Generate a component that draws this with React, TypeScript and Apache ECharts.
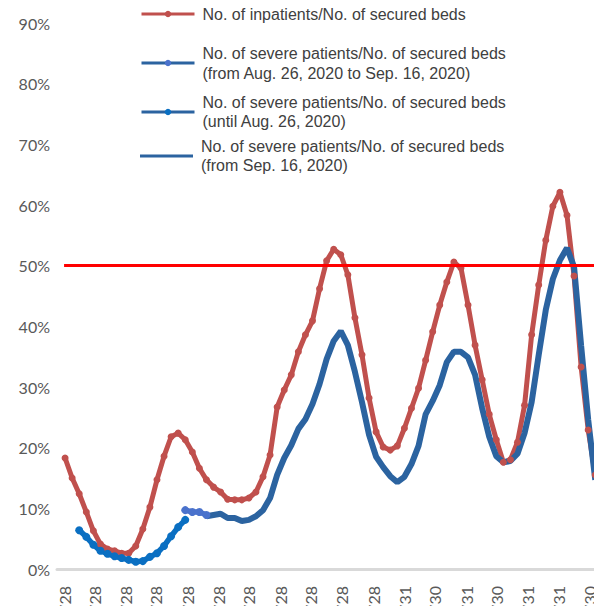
import React, { useEffect, useRef } from "react";
import * as echarts from "echarts";

// Weekly sample dates (Wednesdays)
const sampleDates = [
  "2020-04-29", "2020-05-06", "2020-05-13", "2020-05-20", "2020-05-27", "2020-06-03", "2020-06-10", "2020-06-17",
  "2020-06-24", "2020-07-01", "2020-07-08", "2020-07-15", "2020-07-22", "2020-07-29", "2020-08-05", "2020-08-12",
  "2020-08-19", "2020-08-26", "2020-09-02", "2020-09-09", "2020-09-16", "2020-09-23", "2020-09-30", "2020-10-07",
  "2020-10-14", "2020-10-21", "2020-10-28", "2020-11-04", "2020-11-11", "2020-11-18", "2020-11-25", "2020-12-02",
  "2020-12-09", "2020-12-16", "2020-12-23", "2020-12-30", "2021-01-06", "2021-01-13", "2021-01-20", "2021-01-27",
  "2021-02-03", "2021-02-10", "2021-02-17", "2021-02-24", "2021-03-03", "2021-03-10", "2021-03-17", "2021-03-24",
  "2021-03-31", "2021-04-07", "2021-04-14", "2021-04-21", "2021-04-28", "2021-05-05", "2021-05-12", "2021-05-19",
  "2021-05-26", "2021-06-02", "2021-06-09", "2021-06-16", "2021-06-23", "2021-06-30", "2021-07-07", "2021-07-14",
  "2021-07-21", "2021-07-28", "2021-08-04", "2021-08-11", "2021-08-18", "2021-08-25", "2021-09-01", "2021-09-08",
  "2021-09-15", "2021-09-22", "2021-09-29", "2021-10-06",
];

// No. of inpatients / No. of secured beds (%)
const inpatientsPerBeds = [
  18.3, 15.0, 12.4, 9.4, 6.3, 4.1, 3.3, 3.0, 2.6, 2.6, 3.8, 6.6, 10.2, 14.7, 18.6, 21.8,
  22.4, 21.3, 19.3, 16.6, 14.7, 13.5, 12.7, 11.5, 11.4, 11.4, 11.7, 12.7, 15.2, 18.8, 26.7, 29.5,
  32.0, 35.8, 38.6, 40.9, 46.2, 50.8, 52.7, 51.8, 48.5, 41.4, 35.3, 28.2, 22.6, 20.1, 19.6, 20.3,
  23.2, 26.5, 29.8, 34.4, 39.1, 43.5, 47.3, 50.6, 49.6, 43.5, 36.9, 31.2, 25.5, 21.3, 17.6, 18.0,
  20.9, 27.0, 38.6, 46.8, 54.2, 59.8, 62.1, 58.3, 48.3, 33.3, 22.9, 15.5,
];

// No. of severe patients / No. of secured beds (%) until Aug. 26, 2020
const severeUntilAug26 = [
  null, null, 6.4, 5.3, 4.0, 3.0, 2.5, 2.1, 1.8, 1.5, 1.2, 1.3, 2.0, 2.6, 3.8, 5.4,
  6.9, 8.1,
];

// from Aug. 26, 2020 to Sep. 16, 2020
const severeAug26ToSep16 = [
  null, null, null, null, null, null, null, null, null, null, null, null, null, null, null, null,
  null, 9.7, 9.4, 9.4, 8.9,
];

// from Sep. 16, 2020
const severeFromSep16 = [
  null, null, null, null, null, null, null, null, null, null, null, null, null, null, null, null,
  null, null, null, null, 8.7, 8.9, 9.1, 8.4, 8.4, 7.9, 8.1, 8.7, 9.7, 11.7, 15.5, 18.3,
  20.4, 23.1, 24.7, 27.2, 30.5, 34.6, 37.6, 39.2, 36.9, 32.5, 27.5, 22.1, 18.5, 16.8, 15.3, 14.3,
  15.2, 17.3, 20.3, 25.5, 27.7, 30.3, 34.1, 35.8, 35.8, 34.9, 32.0, 26.5, 21.8, 18.6, 17.6, 17.8,
  19.0, 22.4, 27.5, 35.3, 42.7, 47.8, 50.9, 52.9, 49.8, 36.8, 24.6, 14.7,
];

const tickLabels = [
  "2020/4/28", "2020/5/28", "2020/6/28", "2020/7/28", "2020/8/28", "2020/9/28", "2020/10/28",
  "2020/11/28", "2020/12/28", "2021/1/28", "2021/2/28", "2021/3/31", "2021/4/30", "2021/5/31",
  "2021/6/30", "2021/7/31", "2021/8/31", "2021/9/30",
];

const threshold = 50;

const NAME_INPATIENTS = "No. of inpatients/No. of secured beds";
const NAME_AUG_SEP = "No. of severe patients/No. of secured beds\n(from Aug. 26, 2020 to Sep. 16, 2020)";
const NAME_UNTIL = "No. of severe patients/No. of secured beds\n(until Aug. 26, 2020)";
const NAME_FROM = "No. of severe patients/No. of secured beds\n(from Sep. 16, 2020)";

const BASE = Date.UTC(2020, 3, 28);
function toDay(s: string): number {
  const [y, m, d] = s.split(/[-/]/).map(Number);
  return (Date.UTC(y, m - 1, d) - BASE) / 86400000;
}

function pairs(values: (number | null)[]) {
  const out: [number, number][] = [];
  values.forEach((v, i) => {
    if (v !== null && v !== undefined) out.push([toDay(sampleDates[i]), v]);
  });
  return out;
}

const tickDays = tickLabels.map(toDay);

const RED = "#c0504d";
const DARK_BLUE = "#2b63a0";
const BRIGHT_BLUE = "#0a6fc2";
const LIGHT_BLUE = "#4a72cc";
const AXIS_FONT = "Lato, sans-serif";
const LEGEND_FONT = "'Liberation Sans', Arial, sans-serif";

export default function App() {
  const ref = useRef<HTMLDivElement>(null);

  useEffect(() => {
    if (!ref.current) return;
    const chart = echarts.init(ref.current, undefined, { renderer: "svg" });

    const legendBase = {
      orient: "vertical",
      left: 140,
      itemWidth: 53,
      itemHeight: 8,
      padding: 0,
      selectedMode: false,
      lineStyle: { width: 3 },
    };
    const legendText = (lh: number) => ({
      fontFamily: LEGEND_FONT,
      fontSize: 16,
      color: "#404040",
      lineHeight: lh,
      padding: [0, 0, 0, 3],
    });

    chart.setOption({
      animation: false,
      backgroundColor: "#ffffff",
      grid: { left: 57, top: 23, width: 613, height: 546, containLabel: false },
      legend: [
        { ...legendBase, top: 5, textStyle: legendText(18), data: [{ name: NAME_INPATIENTS }] },
        {
          ...legendBase,
          top: 43,
          textStyle: legendText(20),
          data: [{ name: NAME_AUG_SEP, lineStyle: { color: DARK_BLUE } }],
        },
        {
          ...legendBase,
          top: 93,
          textStyle: legendText(19),
          data: [{ name: NAME_UNTIL, lineStyle: { color: DARK_BLUE } }],
        },
        {
          ...legendBase,
          top: 137,
          itemHeight: 3,
          textStyle: legendText(19),
          data: [{ name: NAME_FROM, icon: "rect" }],
        },
      ],
      xAxis: {
        type: "value",
        min: -7,
        max: 600,
        axisLine: { show: true, lineStyle: { color: "#d9d9d9", width: 3 } },
        axisTick: { show: false },
        splitLine: { show: false },
        axisLabel: {
          customValues: tickDays,
          rotate: 90,
          margin: 17,
          fontFamily: AXIS_FONT,
          fontSize: 16,
          color: "#595959",
          formatter: (v: number) => {
            const i = tickDays.indexOf(v);
            return i >= 0 ? tickLabels[i] : "";
          },
        },
      },
      yAxis: {
        type: "value",
        min: 0,
        max: 90,
        interval: 10,
        axisLine: { show: false },
        axisTick: { show: false },
        splitLine: { show: false },
        axisLabel: {
          formatter: "{value}%",
          margin: 7,
          fontFamily: AXIS_FONT,
          fontSize: 16,
          color: "#595959",
        },
      },
      series: [
        {
          name: NAME_INPATIENTS,
          type: "line",
          data: pairs(inpatientsPerBeds),
          color: RED,
          symbol: "circle",
          symbolSize: 7,
          itemStyle: { color: RED },
          lineStyle: { color: RED, width: 5 },
          markLine: {
            silent: true,
            symbol: ["none", "none"],
            label: { show: false },
            lineStyle: { color: "#ff0000", width: 3, type: "solid" },
            data: [[{ coord: [0, threshold] }, { coord: [600, threshold] }]],
          },
        },
        {
          name: NAME_AUG_SEP,
          type: "line",
          data: pairs(severeAug26ToSep16),
          color: LIGHT_BLUE,
          symbol: "circle",
          symbolSize: 8,
          itemStyle: { color: LIGHT_BLUE },
          lineStyle: { color: LIGHT_BLUE, width: 5.5 },
        },
        {
          name: NAME_UNTIL,
          type: "line",
          data: pairs(severeUntilAug26),
          color: BRIGHT_BLUE,
          symbol: "circle",
          symbolSize: 8,
          itemStyle: { color: BRIGHT_BLUE },
          lineStyle: { color: BRIGHT_BLUE, width: 5.5 },
        },
        {
          name: NAME_FROM,
          type: "line",
          data: pairs(severeFromSep16),
          color: DARK_BLUE,
          symbol: "none",
          itemStyle: { color: DARK_BLUE },
          lineStyle: { color: DARK_BLUE, width: 6 },
        },
      ],
    });

    return () => chart.dispose();
  }, []);

  return (
    <div
      style={{
        position: "fixed",
        left: 0,
        top: 0,
        width: 594,
        height: 606,
        overflow: "hidden",
        background: "#ffffff",
      }}
    >
      <div ref={ref} style={{ width: 700, height: 700 }} />
    </div>
  );
}
